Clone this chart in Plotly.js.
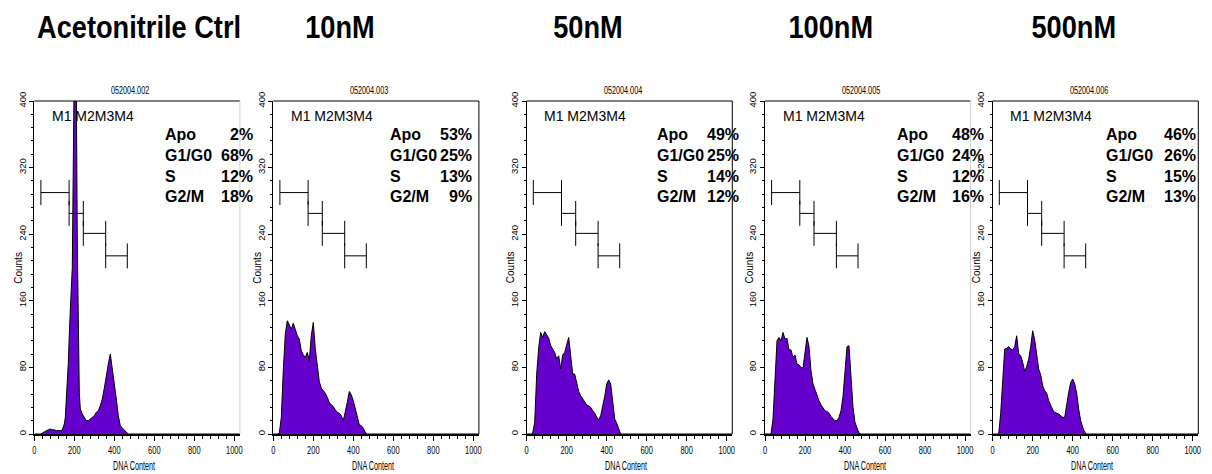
<!DOCTYPE html>
<html>
<head>
<meta charset="utf-8">
<script src="https://cdn.plot.ly/plotly-3.0.1.min.js"></script>
<style>html,body{margin:0;padding:0;background:#fff;}#chart{width:1212px;height:474px;}</style>
</head>
<body>
<div id="chart"></div>
<script>
// ---------------- DATA ----------------
const conditions = ["Acetonitrile Ctrl", "10nM", "50nM", "100nM", "500nM"];
const fileNames = ["052004.002", "052004.003", "052004.004", "052004.005", "052004.006"];
const phaseLabels = ["Apo", "G1/G0", "S", "G2/M"];
const phaseValues = [
  ["2%", "68%", "12%", "18%"],
  ["53%", "25%", "13%", "9%"],
  ["49%", "25%", "14%", "12%"],
  ["48%", "24%", "12%", "16%"],
  ["46%", "26%", "15%", "13%"]
];
const gateNames = "M1 M2M3M4";
const gateStart = [33, 174, 245, 357];
const gateEnd = [174, 245, 357, 465];
const gateLevel = [290, 265, 241, 214];

const yTicks = [0, 80, 160, 240, 320, 400];
const xTicks = [0, 200, 400, 600, 800, 1000];

// DNA content channels (shared) and per-panel counts
const channels = [0,10,20,30,40,50,60,70,80,90,100,110,120,130,140,150,160,170,180,190,200,210,220,230,240,250,260,270,280,290,300,310,320,330,340,350,360,370,380,390,400,410,420,430,440,450,460,470,480,490];
const channelsCtrl = [0,10,20,30,40,50,60,70,80,90,100,110,120,130,140,150,155,160,165,170,175,180,185,190,195,200,205,210,215,220,225,230,235,240,250,260,270,280,290,300,310,320,330,340,350,360,370,380,390,400,410,420,430,440,450,460,470,480,490];
const countsCtrl = [0,0,0,0,1,3,4,5,6,5,5,4,4,4,5,12,20,40,65,85,120,140,175,200,300,450,460,420,230,90,50,30,26,24,20,16,16,18,21,22,26,28,34,42,55,72,84,96,80,58,42,22,10,7,5,2,0,0,0];
const counts10 = [0,0,0,1,20,77,120,136,131,126,133,124,118,114,100,95,92,98,88,118,134,102,82,63,55,52,49,44,38,35,33,29,26,25,22,16,26,38,51,47,40,30,18,11,10,7,2,0,0,0];
const counts50 = [0,0,0,1,14,72,104,122,116,123,118,115,106,101,98,90,94,78,95,98,106,116,94,72,72,60,51,46,42,39,35,34,32,28,25,20,17,22,32,45,60,65,60,42,18,13,5,0,0,0];
const counts100 = [0,0,0,0,18,72,112,116,112,122,114,115,101,101,92,95,84,83,80,79,96,116,105,76,60,53,45,40,35,31,28,27,25,21,19,16,16,20,28,45,75,105,106,68,32,14,7,1,0,0];
const counts500 = [0,0,0,0,25,72,102,103,105,102,101,105,118,96,94,86,75,81,90,105,124,113,97,78,71,58,52,49,40,34,29,26,25,24,22,20,20,37,50,62,66,60,49,30,16,8,2,0,0,0];

const panelX = [channelsCtrl, channels, channels, channels, channels];
const panelY = [countsCtrl, counts10, counts50, counts100, counts500];

// ---------------- LAYOUT CONSTANTS ----------------
const W = 1212, H = 474;
const origins = [34.3, 273.3, 526.7, 765, 992.7];
const xMax = 1028, pxPerCh = 0.2;
const plotTop = 101, plotBottom = 434;
const titleCenters = [139, 340, 588, 831, 1074];
const labelOff = [129, 115, 128, 130, 111];
const valueOff = [221, 201, 214, 221, 205];
const rowY = [134, 155.5, 176, 196.5];
const rightColors = ["#d0d0d0", "#000", "#000", "#d0d0d0", "#000"];

const px = v => v / W;
const py = v => 1 - v / H;

const FILL = "rgb(102,0,204)";
const SANS = "Liberation Sans, Arial, sans-serif";

const data = [];
const annScale = [];
const layout = {
  width: W, height: H,
  margin: {l: 0, r: 0, t: 0, b: 0},
  paper_bgcolor: "#fff", plot_bgcolor: "#fff",
  showlegend: false,
  annotations: [], shapes: []
};
function addAnn(a, s) { layout.annotations.push(a); annScale.push(s || 1); }

for (let i = 0; i < 5; i++) {
  const n = i === 0 ? "" : String(i + 1);
  const xa = "x" + n, ya = "y" + n;
  const o = origins[i];
  layout["xaxis" + n] = {
    domain: [px(o), px(o + xMax * pxPerCh)],
    range: [0, xMax], anchor: ya,
    showgrid: false, zeroline: false,
    showline: true, linecolor: "#000", linewidth: 2,
    ticks: "outside", ticklen: 5, tickcolor: "#000", tickwidth: 1,
    tickvals: xTicks, ticktext: xTicks.map(String),
    tickfont: {family: SANS, size: 11, color: "#000"},
    minor: {dtick: 40, ticks: "outside", ticklen: 3, tickcolor: "#000"},
    fixedrange: true
  };
  layout["yaxis" + n] = {
    domain: [py(plotBottom), py(plotTop)],
    range: [0, 400], anchor: xa,
    showgrid: false, zeroline: false,
    showline: true, linecolor: "#000", linewidth: 1,
    ticks: "outside", ticklen: 4, tickcolor: "#000",
    tickvals: yTicks, ticktext: yTicks.map(String), tickangle: -90,
    tickfont: {family: SANS, size: 9.5, color: "#000"},
    minor: {dtick: 16, ticks: "outside", ticklen: 2, tickcolor: "#000"},
    fixedrange: true
  };

  // histogram
  data.push({
    type: "scatter", mode: "lines", xaxis: xa, yaxis: ya,
    x: panelX[i].concat([xMax]), y: panelY[i].concat([0]),
    fill: "tozeroy", fillcolor: FILL,
    line: {color: "#000", width: 1}, hoverinfo: "skip"
  });

  // gates
  const gx = [], gy = [];
  for (let k = 0; k < gateStart.length; k++) {
    const s = gateStart[k], e = gateEnd[k], g = gateLevel[k];
    gx.push(s, e, null, s, s, null, e, e, null);
    gy.push(g, g, null, g - 15, g + 15, null, g - 15, g + 15, null);
  }
  data.push({
    type: "scatter", mode: "lines", xaxis: xa, yaxis: ya,
    x: gx, y: gy, line: {color: "#000", width: 1}, hoverinfo: "skip"
  });

  // borders
  layout.shapes.push({type: "line", xref: xa + " domain", yref: ya + " domain",
    x0: 0, x1: 1, y0: 1, y1: 1, line: {color: "#000", width: 1}});
  layout.shapes.push({type: "line", xref: xa + " domain", yref: ya + " domain",
    x0: 1, x1: 1, y0: 0, y1: 1, line: {color: rightColors[i], width: 1}});

  // condition title
  addAnn({xref: "paper", yref: "paper", x: px(titleCenters[i]), y: py(27),
    xanchor: "center", yanchor: "middle", showarrow: false, text: conditions[i],
    font: {family: SANS, size: 32, color: "#000", weight: "bold"}}, 0.85);
  // file name
  addAnn({xref: "paper", yref: "paper", x: px(o + 96), y: py(90),
    xanchor: "center", yanchor: "middle", showarrow: false, text: fileNames[i],
    font: {family: SANS, size: 11, color: "#000"}}, 0.66);
  // gate names
  addAnn({xref: "paper", yref: "paper", x: px(o + 15.5), y: py(115.7),
    xanchor: "left", yanchor: "middle", showarrow: false, text: gateNames,
    font: {family: SANS, size: 14, color: "#000"}});
  // stats
  for (let r = 0; r < phaseLabels.length; r++) {
    addAnn({xref: "paper", yref: "paper", x: px(o + labelOff[i]), y: py(rowY[r]),
      xanchor: "left", yanchor: "middle", showarrow: false, text: phaseLabels[r],
      font: {family: SANS, size: 16, color: "#000", weight: "bold"}});
    addAnn({xref: "paper", yref: "paper", x: px(o + valueOff[i]), y: py(rowY[r]),
      xanchor: "right", yanchor: "middle", showarrow: false, text: phaseValues[i][r],
      font: {family: SANS, size: 16, color: "#000", weight: "bold"}});
  }
  // axis titles
  addAnn({xref: "paper", yref: "paper", x: px(o - 16), y: py((plotTop + plotBottom) / 2),
    xanchor: "center", yanchor: "middle", showarrow: false, text: "Counts", textangle: -90,
    font: {family: SANS, size: 10, color: "#000"}});
  addAnn({xref: "paper", yref: "paper", x: px(o + 100), y: py(466),
    xanchor: "center", yanchor: "middle", showarrow: false, text: "DNA Content",
    font: {family: SANS, size: 12, color: "#000"}}, 0.6);
}

function condense(el, s) {
  if (!el || s === 1) return;
  const len = el.getComputedTextLength();
  el.setAttribute("textLength", (len * s).toFixed(2));
  el.setAttribute("lengthAdjust", "spacingAndGlyphs");
}

Plotly.newPlot("chart", data, layout, {displayModeBar: false, staticPlot: true}).then(gd => {
  const anns = gd.querySelectorAll("g.annotation");
  anns.forEach((g, k) => {
    const t = g.querySelector("text.annotation-text");
    condense(t, annScale[k]);
  });
  gd.querySelectorAll(".xaxislayer-above text").forEach(t => condense(t, 0.68));
});
</script>
</body>
</html>
